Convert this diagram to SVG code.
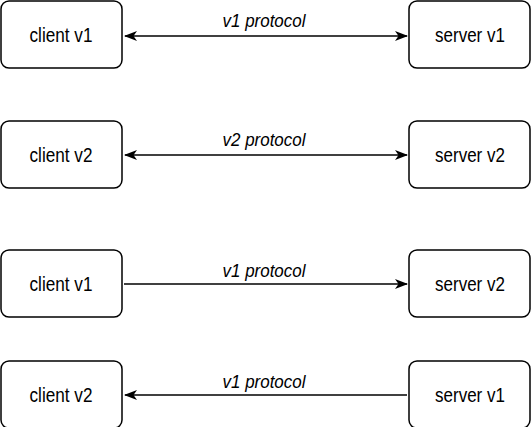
<svg xmlns="http://www.w3.org/2000/svg" width="532" height="427" viewBox="0 0 532 427">
<defs>
<style>
.box{fill:#fff;stroke:#000;stroke-width:1.5}
.nt{font-family:"Liberation Sans Narrow","Liberation Sans",Arial,sans-serif;font-size:20px;text-anchor:middle;fill:#000}
.lt{font-family:"Liberation Sans Narrow","Liberation Sans",Arial,sans-serif;font-size:19px;font-style:italic;text-anchor:middle;fill:#000}
.ln{stroke:#000;stroke-width:1.3;fill:none}
</style>
<marker id="ah" viewBox="0 0 13 10" refX="12" refY="5" markerWidth="13" markerHeight="10" markerUnits="userSpaceOnUse" orient="auto-start-reverse">
<path d="M0,0 L13,5 L0,10 L3.5,5 Z" fill="#000"/>
</marker>
</defs>
<rect width="532" height="427" fill="#fff"/>
<g id="c1"><rect class="box" x="1" y="1" width="121" height="67" rx="8"/><text class="nt" x="61" y="42" textLength="63" lengthAdjust="spacingAndGlyphs">client v1</text></g>
<g id="s1"><rect class="box" x="409" y="1" width="121" height="67" rx="8"/><text class="nt" x="470" y="42" textLength="70" lengthAdjust="spacingAndGlyphs">server v1</text></g>
<g id="c2"><rect class="box" x="1" y="121" width="121" height="67" rx="8"/><text class="nt" x="61" y="162" textLength="63" lengthAdjust="spacingAndGlyphs">client v2</text></g>
<g id="s2"><rect class="box" x="409" y="121" width="121" height="67" rx="8"/><text class="nt" x="470" y="162" textLength="70" lengthAdjust="spacingAndGlyphs">server v2</text></g>
<g id="c3"><rect class="box" x="1" y="250" width="121" height="67" rx="8"/><text class="nt" x="61" y="291" textLength="63" lengthAdjust="spacingAndGlyphs">client v1</text></g>
<g id="s3"><rect class="box" x="409" y="250" width="121" height="67" rx="8"/><text class="nt" x="470" y="291" textLength="70" lengthAdjust="spacingAndGlyphs">server v2</text></g>
<g id="c4"><rect class="box" x="1" y="361" width="121" height="67" rx="8"/><text class="nt" x="61" y="402" textLength="63" lengthAdjust="spacingAndGlyphs">client v2</text></g>
<g id="s4"><rect class="box" x="409" y="361" width="121" height="67" rx="8"/><text class="nt" x="470" y="402" textLength="70" lengthAdjust="spacingAndGlyphs">server v1</text></g>
<g id="connectors">
<line class="ln" x1="125" y1="36" x2="407" y2="36" marker-start="url(#ah)" marker-end="url(#ah)"/>
<text class="lt" x="264" y="27" textLength="83" lengthAdjust="spacingAndGlyphs">v1 protocol</text>
<line class="ln" x1="125" y1="155" x2="407" y2="155" marker-start="url(#ah)" marker-end="url(#ah)"/>
<text class="lt" x="264" y="146" textLength="83" lengthAdjust="spacingAndGlyphs">v2 protocol</text>
<line class="ln" x1="124" y1="284" x2="407" y2="284" marker-end="url(#ah)"/>
<text class="lt" x="264" y="277" textLength="83" lengthAdjust="spacingAndGlyphs">v1 protocol</text>
<line class="ln" x1="407" y1="395" x2="125" y2="395" marker-end="url(#ah)"/>
<text class="lt" x="264" y="388" textLength="83" lengthAdjust="spacingAndGlyphs">v1 protocol</text>
</g>
</svg>
